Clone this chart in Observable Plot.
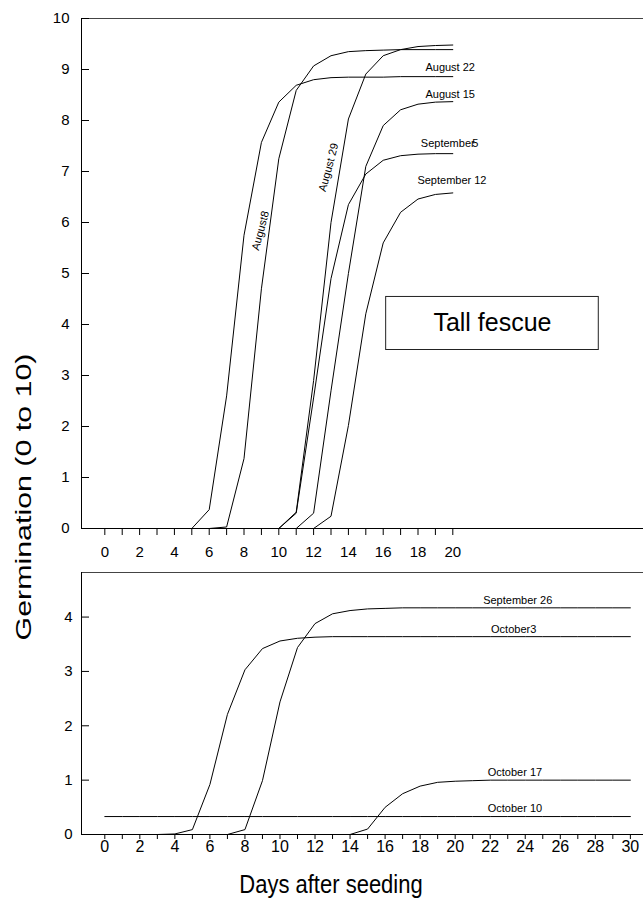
<!DOCTYPE html>
<html>
<head>
<meta charset="utf-8">
<script src="https://cdn.jsdelivr.net/npm/d3@7"></script>
<script src="https://cdn.jsdelivr.net/npm/@observablehq/plot@0.6"></script>
<style>
  body { margin: 0; background: #fff; }
  #wrap { position: relative; width: 643px; height: 900px; font-family: "Liberation Sans", Arial, sans-serif; color: #000; }
  #top { position: absolute; left: 0; top: 0; }
  #bottom { position: absolute; left: 0; top: 565px; }
  #ylab { position: absolute; left: 24px; top: 497px; font-size: 22px; white-space: nowrap;
          transform: translate(-50%, -50%) rotate(-90deg) scaleX(1.38); }
  #xlab { position: absolute; left: 331px; top: 885px; font-size: 22px; white-space: nowrap;
          transform: translate(-50%, -50%) scaleY(1.15); }
  svg text { font-family: "Liberation Sans", Arial, sans-serif; }
</style>
</head>
<body>
<div id="wrap">
  <div id="top"></div>
  <div id="bottom"></div>
  <div id="ylab">Germination (0 to 10)</div>
  <div id="xlab">Days after seeding</div>
</div>
<script>
// ---------- data: top panel (Tall fescue, August / early September seedings) ----------
const topDays = [0,1,2,3,4,5,6,7,8,9,10,11,12,13,14,15,16,17,18,19,20];
const topNames = ["curve A", "curve B", "curve C", "curve D", "curve E", "curve F"];
const curveA = [0,0,0,0,0,0,0.37,2.6,5.75,7.57,8.36,8.69,8.8,8.84,8.85,8.85,8.85,8.86,8.86,8.86,8.86];
const curveB = [0,0,0,0,0,0,0,0.03,1.37,4.7,7.25,8.59,9.07,9.27,9.35,9.37,9.38,9.39,9.39,9.39,9.39];
const curveC = [0,0,0,0,0,0,0,0,0,0,0,0.32,2.9,6.0,8.03,8.91,9.27,9.39,9.45,9.47,9.48];
const curveD = [0,0,0,0,0,0,0,0,0,0,0,0.3,2.56,4.9,6.35,6.95,7.22,7.31,7.34,7.35,7.35];
const curveE = [0,0,0,0,0,0,0,0,0,0,0,0,0.3,2.7,5.0,7.1,7.9,8.21,8.32,8.36,8.37];
const curveF = [0,0,0,0,0,0,0,0,0,0,0,0,0,0.24,2.02,4.21,5.6,6.2,6.46,6.55,6.58];
const topYTicks = [0,1,2,3,4,5,6,7,8,9,10];
const topLabels = ["August 22", "August 15", "September", "5", "September 12"];
const topLabelX = [19.85, 19.85, 19.71, 21.29, 19.95];
const topLabelY = [9.04, 8.51, 7.55, 7.55, 6.82];
const rotLabels = ["August8", "August 29"];
const rotLabelX = [8.95, 12.86];
const rotLabelY = [5.84, 7.08];
const boxTitle = ["Tall fescue"];

// ---------- data: bottom panel (late September / October seedings) ----------
const bottomDays = [0,1,2,3,4,5,6,7,8,9,10,11,12,13,14,15,16,17,18,19,20,21,22,23,24,25,26,27,28,29,30];
const bottomNames = ["September 26", "October3", "October 17", "October 10"];
const sep26 = [0,0,0,0,0,0,0,0,0.09,0.99,2.44,3.44,3.88,4.06,4.12,4.15,4.16,4.17,4.17,4.17,4.17,4.17,4.17,4.17,4.17,4.17,4.17,4.17,4.17,4.17,4.17];
const oct3  = [0,0,0,0,0.01,0.09,0.92,2.21,3.03,3.42,3.56,3.61,3.63,3.64,3.64,3.64,3.64,3.64,3.64,3.64,3.64,3.64,3.64,3.64,3.64,3.64,3.64,3.64,3.64,3.64,3.64];
const oct17 = [0,0,0,0,0,0,0,0,0,0,0,0,0,0,0,0.1,0.5,0.75,0.89,0.96,0.98,0.99,1.0,1.0,1.0,1.0,1.0,1.0,1.0,1.0,1.0];
const oct10 = [0.33,0.33,0.33,0.33,0.33,0.33,0.33,0.33,0.33,0.33,0.33,0.33,0.33,0.33,0.33,0.33,0.33,0.33,0.33,0.33,0.33,0.33,0.33,0.33,0.33,0.33,0.33,0.33,0.33,0.33,0.33];
const bottomYTicks = [0,1,2,3,4];
const bottomLabelX = [23.57, 23.34, 23.41, 23.41];
const bottomLabelY = [4.3, 3.78, 1.14, 0.48];

// ---------- tables built from the arrays ----------
const topValues = [curveA, curveB, curveC, curveD, curveE, curveF];
const topRows = topNames.flatMap((name, i) => topDays.map((d, j) => ({series: name, day: d, value: topValues[i][j]})));
const bottomValues = [sep26, oct3, oct17, oct10];
const bottomRows = bottomNames.flatMap((name, i) => bottomDays.map((d, j) => ({series: name, day: d, value: bottomValues[i][j]})));
const topLabelRows = topLabels.map((t, i) => ({text: t, x: topLabelX[i], y: topLabelY[i]}));
const rotLabelRows = rotLabels.map((t, i) => ({text: t, x: rotLabelX[i], y: rotLabelY[i]}));
const bottomLabelRows = bottomNames.map((t, i) => ({text: t, x: bottomLabelX[i], y: bottomLabelY[i]}));
const boxRows = [{x1: 16.17, x2: 28.39, y1: 3.5, y2: 4.54, tx: 22.28, ty: 4.02, text: boxTitle[0]}];

const topXDomain = [-1.34, 30.96];
const topYDomain = [0, 10];
const bottomXDomain = [-1.33, 30.75];
const bottomYDomain = [0, 4.82];

const baseStyle = {fontSize: "15px", fontFamily: "Liberation Sans, Arial, sans-serif", background: "white", color: "black", overflow: "visible"};
const intFormat = d => String(d);
const evenFormat = d => d % 2 ? "" : String(d);

const topPlot = Plot.plot({
  width: 643, height: 565,
  marginLeft: 81, marginRight: 0, marginTop: 18, marginBottom: 37,
  style: baseStyle,
  x: {domain: topXDomain},
  y: {domain: topYDomain},
  marks: [
    Plot.ruleY([topYDomain[1]], {stroke: "#444"}),
    Plot.ruleY([topYDomain[0]], {stroke: "black"}),
    Plot.ruleX([topXDomain[0]], {stroke: "black"}),
    Plot.axisY({ticks: topYTicks, tickSize: 0, tickPadding: 12, tickFormat: intFormat, label: null, fontSize: 15}),
    Plot.axisY({ticks: topYTicks, tickSize: 8, dx: 8, tickFormat: () => "", label: null}),
    Plot.axisX({ticks: topDays, tickSize: 7, tickPadding: 11, tickFormat: evenFormat, label: null, fontSize: 15}),
    Plot.line(topRows, {x: "day", y: "value", z: "series", stroke: "black", strokeWidth: 1}),
    Plot.text(topLabelRows, {x: "x", y: "y", text: "text", fontSize: 11, fill: "black"}),
    Plot.text(rotLabelRows, {x: "x", y: "y", text: "text", fontSize: 11, rotate: -75, fill: "black"}),
    Plot.rect(boxRows, {x1: "x1", x2: "x2", y1: "y1", y2: "y2", fill: "white", stroke: "#222", strokeWidth: 1}),
    Plot.text(boxRows, {x: "tx", y: "ty", text: "text", fontSize: 25, fill: "black"})
  ]
});
document.getElementById("top").appendChild(topPlot);

const bottomPlot = Plot.plot({
  width: 643, height: 300,
  marginLeft: 81, marginRight: 0, marginTop: 7, marginBottom: 31,
  style: baseStyle,
  x: {domain: bottomXDomain},
  y: {domain: bottomYDomain},
  marks: [
    Plot.ruleY([bottomYDomain[1]], {stroke: "#444"}),
    Plot.ruleY([bottomYDomain[0]], {stroke: "black"}),
    Plot.ruleX([bottomXDomain[0]], {stroke: "black"}),
    Plot.axisY({ticks: bottomYTicks, tickSize: 0, tickPadding: 9, tickFormat: intFormat, label: null, fontSize: 15}),
    Plot.axisY({ticks: bottomYTicks, tickSize: 8, dx: 8, tickFormat: () => "", label: null}),
    Plot.axisX({ticks: bottomDays, tickSize: 5, tickPadding: 1, tickFormat: evenFormat, label: null, fontSize: 16}),
    Plot.line(bottomRows, {x: "day", y: "value", z: "series", stroke: "black", strokeWidth: 1}),
    Plot.text(bottomLabelRows, {x: "x", y: "y", text: "text", fontSize: 11, fill: "black"})
  ]
});
document.getElementById("bottom").appendChild(bottomPlot);
</script>
</body>
</html>
